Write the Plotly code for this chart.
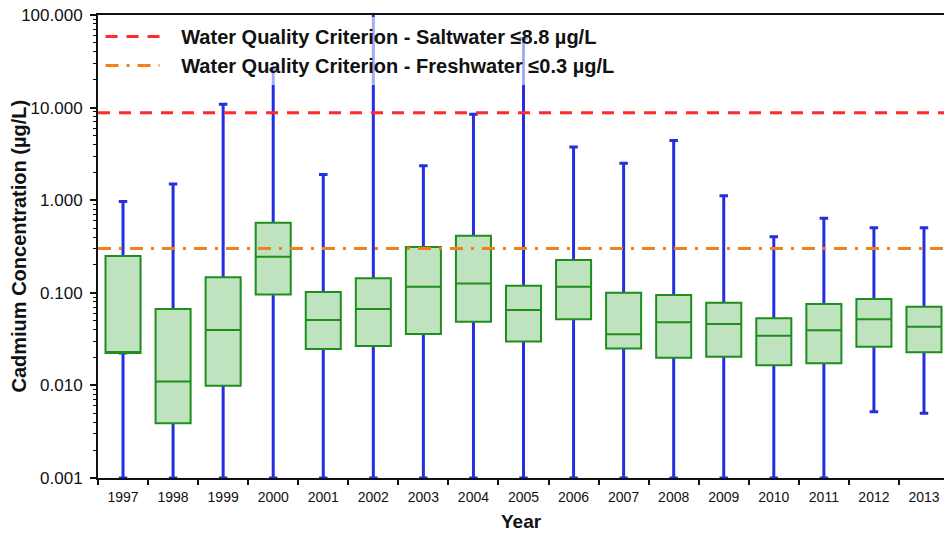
import plotly.graph_objects as go

# ---------------- data ----------------
years = ["1997", "1998", "1999", "2000", "2001", "2002", "2003", "2004", "2005",
         "2006", "2007", "2008", "2009", "2010", "2011", "2012", "2013"]
q1 = [0.0224, 0.0039, 0.0099, 0.096, 0.0247, 0.0267, 0.0359, 0.0488, 0.0297,
      0.0518, 0.0251, 0.0199, 0.0204, 0.0165, 0.0173, 0.0262, 0.0228]
median = [0.0224, 0.011, 0.0397, 0.245, 0.051, 0.067, 0.116, 0.126, 0.065,
          0.116, 0.0357, 0.048, 0.046, 0.0344, 0.0394, 0.0518, 0.043]
q3 = [0.25, 0.067, 0.147, 0.57, 0.102, 0.144, 0.313, 0.414, 0.119,
      0.226, 0.100, 0.0946, 0.078, 0.053, 0.0757, 0.0857, 0.0708]
lower_whisker = [0.001, 0.001, 0.001, 0.001, 0.001, 0.001, 0.001, 0.001, 0.001,
                 0.001, 0.001, 0.001, 0.001, 0.001, 0.001, 0.0052, 0.005]
upper_whisker = [0.97, 1.5, 10.9, 26.0, 1.89, 150.0, 2.36, 8.5, 56.0,
                 3.75, 2.5, 4.4, 1.12, 0.404, 0.637, 0.505, 0.505]

saltwater_criterion = 8.8
freshwater_criterion = 0.3
legend_names = ["Water Quality Criterion - Saltwater \u22648.8 \u00b5g/L",
                "Water Quality Criterion - Freshwater \u22640.3 \u00b5g/L"]

y_tickvals = [0.001, 0.01, 0.1, 1, 10, 100]
y_ticktext = ["0.001", "0.010", "0.100", "1.000", "10.000", "100.000"]
minor_vals = [k * 10 ** d for d in range(-3, 2) for k in range(2, 10)]

FONT = "Liberation Sans, Arial, sans-serif"
BLUE = "#2430E0"
GREEN = "#1E8E1E"
FILL = "#BEE3BE"
RED = "#FF2A2A"
ORANGE = "#F2801E"
RED_DASH = "12px,9px"
ORANGE_DASH = "13px,8px,3px,8px"

fig = go.Figure()

# whiskers (blue), drawn first; their central part is hidden by the boxes
fig.add_trace(go.Box(
    x=years, q1=median, median=median, q3=median,
    lowerfence=lower_whisker, upperfence=upper_whisker,
    width=0.17, whiskerwidth=1,
    line=dict(color=BLUE, width=3), fillcolor="rgba(0,0,0,0)",
    boxpoints=False, showlegend=False, hoverinfo="skip",
))
# boxes (green)
fig.add_trace(go.Box(
    x=years, q1=q1, median=median, q3=q3,
    lowerfence=q1, upperfence=q3,
    width=0.7, whiskerwidth=0,
    line=dict(color=GREEN, width=2), fillcolor=FILL,
    boxpoints=False, showlegend=False, hoverinfo="skip",
))

# criterion lines
fig.add_hline(y=saltwater_criterion, line=dict(color=RED, width=3, dash=RED_DASH))
fig.add_hline(y=freshwater_criterion, line=dict(color=ORANGE, width=3, dash=ORANGE_DASH))

# legend entries
pad = "\u00a0\u00a0\u00a0"
fig.add_trace(go.Scatter(x=[None], y=[None], mode="lines", name=pad + legend_names[0],
                         line=dict(color=RED, width=3, dash=RED_DASH)))
fig.add_trace(go.Scatter(x=[None], y=[None], mode="lines", name=pad + legend_names[1],
                         line=dict(color=ORANGE, width=3, dash=ORANGE_DASH)))

fig.update_layout(
    width=944, height=535,
    margin=dict(l=98, r=0, t=15, b=57),
    paper_bgcolor="white", plot_bgcolor="white",
    boxmode="overlay",
    font=dict(family=FONT, color="#111111"),
    showlegend=True,
    legend=dict(x=0.003, y=0.9955, xanchor="left", yanchor="top",
                bgcolor="rgba(255,255,255,0.6)", borderwidth=0,
                font=dict(family=FONT, size=20, color="#111111", weight="bold"),
                itemwidth=54, tracegroupgap=0),
    xaxis=dict(
        type="category", range=[-0.5, 16.4],
        showline=True, linecolor="#111111", linewidth=2, mirror=True,
        ticks="outside", tickson="boundaries", ticklen=5, tickwidth=2, tickcolor="#111111",
        tickfont=dict(family=FONT, size=14, color="#111111"),
        ticklabelstandoff=5,
        showgrid=False, zeroline=False,
    ),
    yaxis=dict(
        type="log", range=[-3, 2],
        showline=True, linecolor="#111111", linewidth=2,
        tickvals=y_tickvals, ticktext=y_ticktext,
        ticks="outside", ticklen=6, tickwidth=2, tickcolor="#111111",
        tickfont=dict(family=FONT, size=17, color="#111111"),
        ticklabelstandoff=4,
        minor=dict(tickmode="array", tickvals=minor_vals, ticks="outside",
                   ticklen=3, tickwidth=1, tickcolor="#111111", showgrid=False),
        showgrid=False, zeroline=False,
    ),
    annotations=[
        dict(text="Cadmium Concentration (\u00b5g/L)", xref="paper", yref="paper",
             x=-80 / 846, y=0.5, xanchor="center", yanchor="middle", textangle=-90,
             showarrow=False, font=dict(family=FONT, size=20, color="#111111", weight="bold")),
        dict(text="Year", xref="paper", yref="paper",
             x=0.5, y=-43 / 463, xanchor="center", yanchor="middle",
             showarrow=False, font=dict(family=FONT, size=19, color="#111111", weight="bold")),
    ],
)

fig.write_html("out.html", config={"displayModeBar": False},
               post_script="document.body.style.margin='0';document.body.style.overflow='hidden';")
